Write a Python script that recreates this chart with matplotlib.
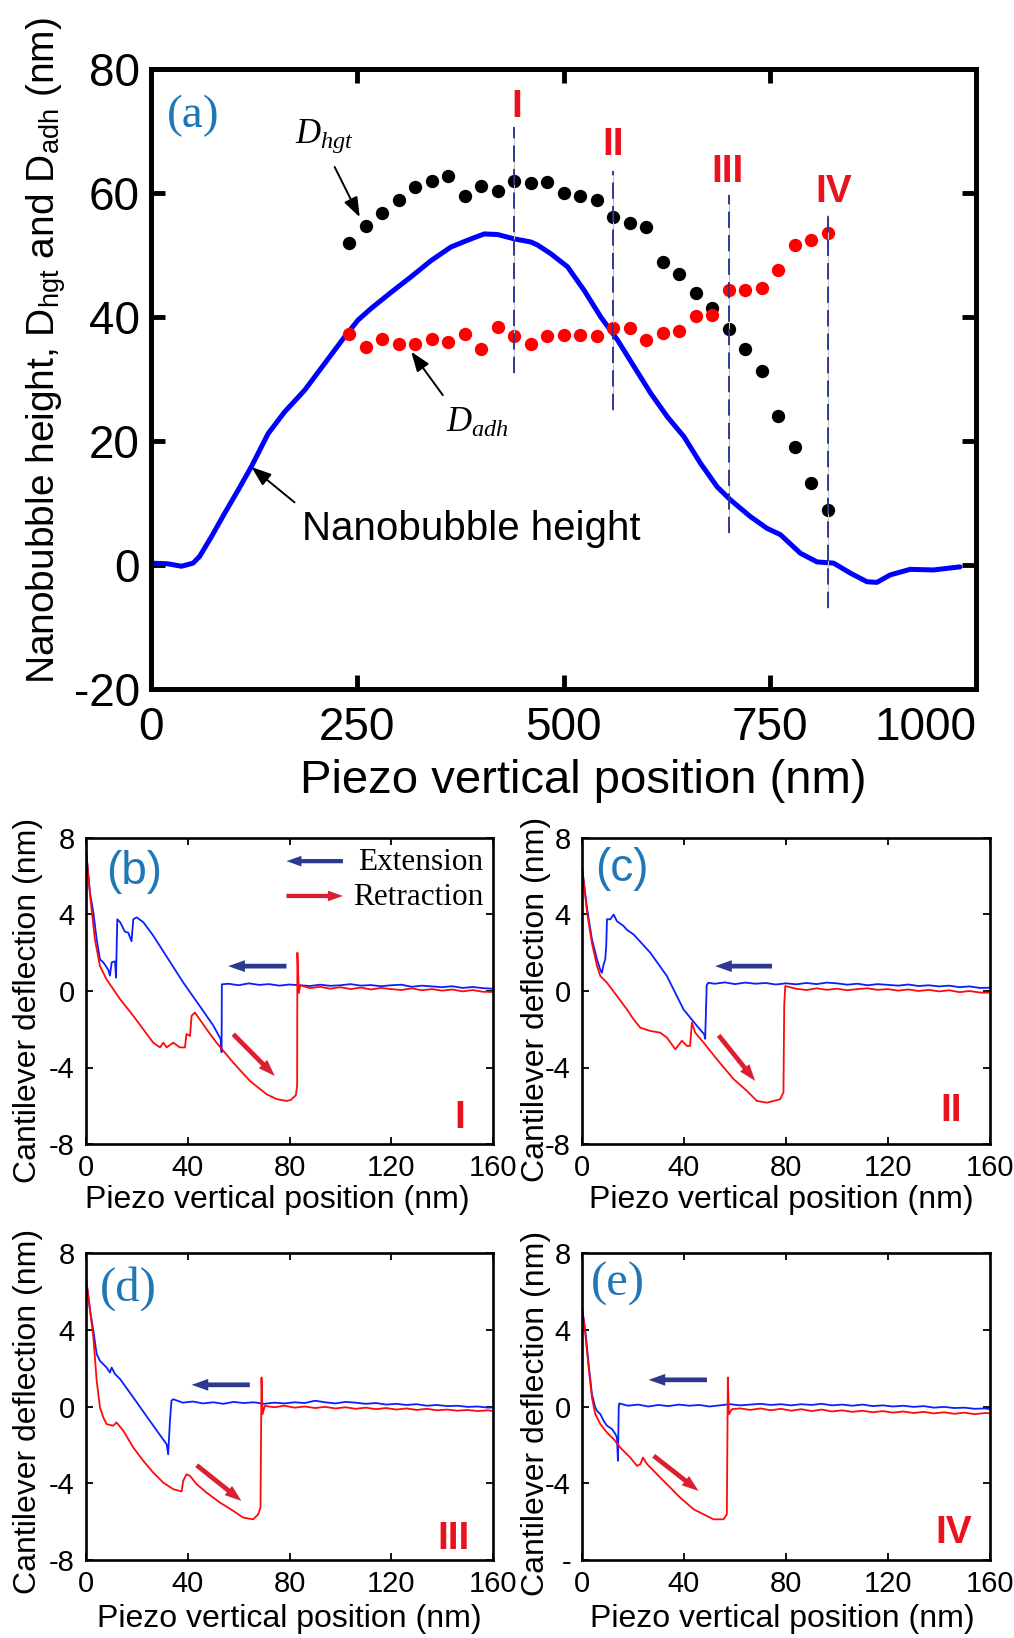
import numpy as np
import matplotlib.pyplot as plt

plt.rcParams['font.family'] = ['Liberation Sans', 'DejaVu Sans']
plt.rcParams['mathtext.fontset'] = 'custom'
plt.rcParams['mathtext.rm'] = 'Liberation Sans'
plt.rcParams['mathtext.it'] = 'Liberation Serif:italic'
plt.rcParams['axes.unicode_minus'] = False

# ---------------- panel (a): nanobubble profile ----------------
height_x = [0, 20, 37, 51, 59, 73.4, 89.5, 105.7, 121.8, 142, 162, 186.3, 210.5,
            234.7, 250.9, 267, 291.2, 315.4, 339.5, 363.7, 387.9, 404, 420.2,
            440.3, 460.5, 468.6, 484.7, 504.9, 525, 545.2, 565.4, 585.5, 605.7,
            625.9, 646, 666.1, 686.3, 702.4, 726.6, 746.8, 762.9, 787.1, 807.3,
            827.4, 847.6, 867.8, 879.9, 896, 920.2, 948.4, 980.6]
height_y = [0.3, 0.2, -0.2, 0.3, 1.4, 4.6, 8.4, 12.1, 15.9, 21.2, 24.7, 28.2, 32.5,
            36.8, 39.5, 41.4, 44.0, 46.5, 49.1, 51.3, 52.6, 53.4, 53.3, 52.6, 52.1,
            51.6, 50.2, 48.1, 44.3, 40.0, 36.3, 32.0, 27.7, 23.9, 20.7, 16.4, 12.6,
            10.5, 7.8, 5.9, 4.9, 1.9, 0.5, 0.3, -1.3, -2.7, -2.8, -1.6, -0.7, -0.8,
            -0.3]

scan_pos = [240, 260, 280, 300, 320, 340, 360, 380, 400, 420, 440, 460, 480,
            500, 520, 540, 560, 580, 600, 620, 640, 660, 680, 700, 720, 740,
            760, 780, 800, 820]
d_hgt = [51.9, 54.7, 56.8, 58.8, 61.0, 61.9, 62.7, 59.5, 61.1, 60.3, 61.9, 61.6,
         61.8, 60.0, 59.5, 58.9, 56.2, 55.2, 54.5, 48.9, 47.0, 43.9, 41.5, 38.0,
         34.9, 31.3, 24.1, 19.0, 13.2, 8.9]
d_adh = [37.2, 35.2, 36.5, 35.6, 35.6, 36.4, 36.0, 37.2, 34.9, 38.4, 37.0, 35.6,
         37.0, 37.1, 37.1, 36.9, 38.2, 38.2, 36.3, 37.5, 37.8, 40.1, 40.4, 44.4,
         44.3, 44.7, 47.6, 51.6, 52.5, 53.5]

mark_names = ['I', 'II', 'III', 'IV']
mark_x = [440, 560, 700, 820]
mark_lo = [30.9, 25.0, 5.2, -7.0]
mark_hi = [70.6, 63.6, 59.6, 56.5]

# ---------------- panels (b)-(e): force curves (x nm, deflection nm) ----------------
b_ext = [(0, 7.4), (1.6, 5.1), (2.9, 4.1), (4.2, 2.7), (5.5, 1.65), (6.8, 1.5),
         (8.8, 1.1), (9.4, 0.8), (10.1, 1.5), (11.4, 1.55), (11.8, 0.7), (12.3, 3.75),
         (13.4, 3.6), (15.3, 3.1), (16.6, 3.05), (17.9, 2.6), (18.6, 3.75), (19.9, 3.85),
         (22.5, 3.6), (26.4, 2.9), (31.7, 1.8), (38.2, 0.45), (44.8, -0.8), (50.0, -1.8),
         (52.9, -2.5), (53.3, -3.2), (53.4, 0.35), (56, 0.38), (60, 0.30), (64, 0.40),
         (68, 0.32), (72, 0.36), (76, 0.28), (80, 0.34), (84, 0.30), (88, 0.26),
         (92, 0.33), (96, 0.27), (100, 0.30), (104, 0.36), (108, 0.28), (112, 0.31),
         (116, 0.25), (120, 0.30), (124, 0.33), (128, 0.22), (132, 0.28), (136, 0.24),
         (140, 0.20), (144, 0.25), (148, 0.16), (152, 0.21), (156, 0.15), (160, 0.12)]
b_ret = [(0, 7.4), (1.6, 5.0), (3.5, 2.7), (5.5, 1.3), (8.1, 0.6), (10.7, 0.1),
         (13.4, -0.43), (18.6, -1.3), (22.5, -2.0), (26.4, -2.7), (29.1, -2.95),
         (30.4, -2.7), (31.7, -2.95), (34.3, -2.7), (36.9, -2.95), (38.9, -2.95),
         (39.5, -2.25), (40.9, -2.35), (41.5, -1.3), (42.8, -1.13), (44.8, -1.5),
         (47.4, -2.0), (51.3, -2.7), (57.9, -3.75), (64.4, -4.7), (71.0, -5.4),
         (74.9, -5.65), (78.8, -5.75), (80.5, -5.7), (82.5, -5.45), (83.0, -4.96),
         (83.1, 2.0), (83.7, -0.1), (84.2, 0.3), (88, 0.15), (92, 0.22), (96, 0.12),
         (100, 0.20), (104, 0.10), (108, 0.18), (112, 0.08), (116, 0.16), (120, 0.10),
         (124, 0.05), (128, 0.14), (132, 0.04), (136, 0.10), (140, 0.02), (144, 0.08),
         (148, -0.02), (152, 0.05), (156, -0.04), (160, -0.05)]

c_ext = [(0, 6.5), (2, 4.3), (3.9, 2.7), (5.9, 1.65), (7.2, 1.1), (7.8, 0.95),
         (8.5, 1.4), (9.1, 1.65), (9.5, 2.35), (9.8, 3.75), (11.1, 3.75), (12.4, 4.0),
         (13.7, 3.65), (16.3, 3.4), (17.6, 3.2), (20.2, 2.96), (26.8, 2.0), (33.3, 0.78),
         (39.8, -0.96), (45.1, -1.83), (47.9, -2.26), (48.3, -2.5), (48.9, 0.3),
         (49.5, 0.43), (52, 0.38), (56, 0.45), (60, 0.36), (64, 0.44), (68, 0.38),
         (72, 0.42), (76, 0.34), (80, 0.40), (84, 0.35), (88, 0.42), (92, 0.36),
         (96, 0.44), (100, 0.40), (104, 0.33), (108, 0.38), (112, 0.30), (116, 0.36),
         (120, 0.32), (124, 0.28), (128, 0.34), (132, 0.26), (136, 0.30), (140, 0.24),
         (144, 0.28), (148, 0.20), (152, 0.24), (156, 0.16), (160, 0.17)]
c_ret = [(0, 6.5), (2, 4.1), (3.9, 2.5), (5.9, 1.3), (7.2, 0.78), (9.8, 0.43),
         (13.7, -0.26), (17.6, -0.96), (20.2, -1.48), (22.9, -1.92), (26.8, -2.09),
         (30.7, -2.18), (33.3, -2.44), (36.6, -3.05), (39.2, -2.6), (41.1, -2.87),
         (42.4, -2.87), (43.1, -1.65), (44.4, -2.18), (47.7, -2.7), (52.9, -3.57),
         (59.4, -4.6), (64.7, -5.23), (68.6, -5.75), (72.5, -5.84), (77.7, -5.66),
         (79.0, -5.3), (79.3, -0.78), (79.7, 0.26), (84, 0.12), (88, 0.05), (92, 0.14),
         (96, 0.06), (100, 0.12), (104, 0.04), (108, 0.10), (112, 0.14), (116, 0.06),
         (120, 0.10), (124, 0.02), (128, 0.08), (132, 0.0), (136, 0.06), (140, -0.02),
         (144, 0.04), (148, -0.06), (152, 0.0), (156, -0.08), (160, -0.09)]

d_ext = [(0, 6.7), (1.6, 5.0), (2.9, 3.95), (4.2, 2.73), (5.5, 2.38), (8.1, 2.03),
         (9.4, 1.77), (10.1, 2.03), (11.4, 1.69), (13.4, 1.43), (18.6, 0.47),
         (25.1, -0.75), (31.7, -1.97), (32.3, -2.49), (33.0, -0.75), (33.6, 0.3),
         (34.3, 0.38), (38, 0.20), (42, 0.26), (46, 0.16), (50, 0.22), (54, 0.14),
         (58, 0.24), (62, 0.18), (66, 0.22), (70, 0.14), (74, 0.20), (78, 0.16),
         (82, 0.22), (86, 0.18), (90, 0.30), (94, 0.22), (98, 0.16), (102, 0.24),
         (106, 0.20), (110, 0.14), (114, 0.18), (118, 0.10), (122, 0.14), (126, 0.08),
         (130, 0.12), (134, 0.04), (138, 0.08), (142, 0.02), (146, 0.04), (150, -0.02),
         (154, 0.0), (158, -0.06), (160, -0.05)]
d_ret = [(0, 6.7), (1.3, 5.34), (2.9, 3.6), (4.2, 1.34), (5.5, -0.05), (6.8, -0.57),
         (8.1, -0.92), (10.7, -1.0), (12.0, -0.83), (14.7, -1.27), (18.6, -2.14),
         (22.5, -2.83), (26.4, -3.44), (30.4, -3.97), (34.3, -4.31), (37.6, -4.43),
         (38.2, -3.88), (39.5, -3.53), (40.9, -3.62), (43.5, -4.05), (47.4, -4.49),
         (52.6, -5.0), (57.9, -5.44), (61.8, -5.79), (65.7, -5.88), (67.7, -5.62),
         (68.6, -5.27), (69.0, 1.51), (69.4, -0.4), (70.3, 0.03), (74, -0.04),
         (78, 0.04), (82, -0.06), (86, 0.0), (90, -0.08), (94, -0.02), (98, -0.10),
         (102, -0.04), (106, -0.12), (110, -0.06), (114, -0.14), (118, -0.08),
         (122, -0.16), (126, -0.10), (130, -0.18), (134, -0.12), (138, -0.20),
         (142, -0.16), (146, -0.22), (150, -0.18), (154, -0.24), (158, -0.20),
         (160, -0.23)]

e_ext = [(0, 5.17), (1.3, 3.95), (2.6, 2.21), (3.9, 0.64), (5.2, -0.05), (5.9, -0.23),
         (7.2, -0.4), (8.5, -0.75), (9.8, -1.0), (11.8, -1.18), (13.1, -1.44),
         (13.7, -1.62), (14.1, -2.83), (14.4, -0.05), (14.6, 0.16), (18, 0.04),
         (22, 0.10), (26, 0.0), (30, 0.08), (34, 0.02), (38, 0.10), (42, 0.04),
         (46, 0.08), (50, 0.0), (54, 0.06), (58, 0.12), (62, 0.06), (66, 0.10),
         (70, 0.14), (74, 0.08), (78, 0.12), (82, 0.06), (86, 0.12), (90, 0.08),
         (94, 0.14), (98, 0.06), (102, 0.10), (106, 0.04), (110, 0.10), (114, 0.02),
         (118, 0.06), (122, 0.0), (126, 0.04), (130, -0.02), (134, 0.02), (138, -0.06),
         (142, -0.02), (146, -0.08), (150, -0.06), (154, -0.12), (158, -0.10),
         (160, -0.14)]
e_ret = [(0, 5.17), (1.3, 3.77), (2.6, 2.03), (3.9, 0.47), (5.2, -0.4), (7.2, -0.92),
         (9.8, -1.36), (12.4, -1.7), (15.0, -2.14), (18.9, -2.66), (21.6, -3.1),
         (22.9, -3.0), (23.9, -2.66), (25.5, -3.0), (29.4, -3.53), (33.3, -4.05),
         (38.5, -4.75), (43.8, -5.36), (47.7, -5.62), (51.6, -5.88), (55.5, -5.88),
         (56.8, -5.62), (57.2, 1.51), (57.6, -0.4), (58.8, -0.14), (62, -0.10),
         (66, -0.18), (70, -0.10), (74, -0.20), (78, -0.12), (82, -0.22), (86, -0.14),
         (90, -0.24), (94, -0.16), (98, -0.26), (102, -0.20), (106, -0.28), (110, -0.22),
         (114, -0.30), (118, -0.24), (122, -0.32), (126, -0.26), (130, -0.34),
         (134, -0.28), (138, -0.36), (142, -0.30), (146, -0.38), (150, -0.32),
         (154, -0.40), (158, -0.34), (160, -0.36)]

defl_ticks = [-8, -4, 0, 4, 8]
pos_ticks = [0, 40, 80, 120, 160]

# ---------------- figure ----------------
W, H = 1014, 1638
fig = plt.figure(figsize=(W / 100, H / 100), dpi=100)


def box(l, t, r, b):
    return [l / W, 1 - b / H, (r - l) / W, (b - t) / H]


def fxy(x, y):
    return x / W, 1 - y / H


TAG_BLUE = '#1f77b4'
NUM_RED = '#e8131f'
SERIF = 'Liberation Serif'

ax = fig.add_axes(box(151, 69, 976, 689))
ax.plot(height_x, height_y, color='#0000ff', lw=3.6, solid_joinstyle='round',
        solid_capstyle='round', zorder=2)
ax.plot(scan_pos, d_hgt, 'o', color='black', ms=9.6, mec='none', zorder=3)
ax.plot(scan_pos, d_adh, 'o', color='#ff0000', ms=9.6, mec='none', zorder=3)
for x, lo, hi in zip(mark_x, mark_lo, mark_hi):
    ax.plot([x, x], [lo, hi], color='#c4c4c4', lw=0.8, zorder=4)
    ax.plot([x, x], [lo, hi], color='#1f2d8f', lw=1.3, ls=(0, (9, 4)), zorder=5)
for name, tx, ty in zip(mark_names, [443, 560, 699, 827], [72.2, 66.2, 61.7, 58.6]):
    ax.text(tx, ty, name, color=NUM_RED, fontsize=28, fontweight='bold',
            ha='center', va='baseline')

ax.set_xlim(0, 1000)
ax.set_ylim(-20, 80)
ax.set_xticks([0, 250, 500, 750, 1000])
ax.set_yticks([-20, 0, 20, 40, 60, 80])
ax.tick_params(direction='in', length=10, width=3.5, top=True, right=True, labelsize=33)
ax.tick_params(axis='x', pad=12)
ax.tick_params(axis='y', pad=8)
ax.get_xticklabels()[-1].set_horizontalalignment('right')
for s in ax.spines.values():
    s.set_linewidth(3.6)

thin_arrow = dict(arrowstyle='-|>,head_length=0.6,head_width=0.22', color='black',
                  lw=1.4, mutation_scale=20, shrinkA=0, shrinkB=0)
ax.annotate('', xy=(253, 56.1), xytext=(222.6, 64.2), arrowprops=thin_arrow)
ax.annotate('', xy=(315.4, 34.4), xytext=(353.7, 27.4), arrowprops=thin_arrow)
ax.annotate('', xy=(121.8, 15.8), xytext=(174, 10.1), arrowprops=thin_arrow)
ax.text(174, 68.1, r'$D_{hgt}$', fontsize=25, ha='left', va='baseline')
ax.text(357.7, 21.5, r'$D_{adh}$', fontsize=25, ha='left', va='baseline')
ax.text(183, 4.0, 'Nanobubble height', fontsize=29, ha='left', va='baseline')
ax.text(19, 70.6, '(a)', color=TAG_BLUE, fontsize=34, family=SERIF,
        ha='left', va='baseline')

fig.text(*fxy(583, 793), 'Piezo vertical position (nm)', fontsize=34,
         ha='center', va='baseline')
fig.text(*fxy(55, 351), r'Nanobubble height, D$_{\mathrm{hgt}}$ and D$_{\mathrm{adh}}$ (nm)',
         fontsize=28, rotation=90, rotation_mode='anchor', ha='center', va='baseline')

# ---------------- force curve panels ----------------
panels = [
    dict(rect=(86, 838, 493, 1144), ext=b_ext, ret=b_ret, tag='(b)', tag_xy=(8.1, 5.57),
         serif=False, num='I', num_xy=(146.9, -7.14), blue=((78.8, 1.3), (55.9, 1.3)),
         red=((57.9, -2.26), (74.2, -4.44)), ylab=(36, 1000), xlab=(277, 1208)),
    dict(rect=(582, 838, 990, 1144), ext=c_ext, ret=c_ret, tag='(c)', tag_xy=(5.2, 5.75),
         serif=False, num='II', num_xy=(144.6, -6.8), blue=((74.5, 1.3), (52.2, 1.3)),
         red=((53.6, -2.32), (67.9, -4.7)), ylab=(544, 999), xlab=(781, 1208)),
    dict(rect=(86, 1253, 493, 1560), ext=d_ext, ret=d_ret, tag='(d)', tag_xy=(5.5, 5.54),
         serif=True, num='III', num_xy=(144.4, -7.44), blue=((64.4, 1.13), (41.5, 1.13)),
         red=((43.5, -3.06), (61.1, -4.92)), ylab=(36, 1411), xlab=(289, 1627)),
    dict(rect=(582, 1253, 990, 1560), ext=e_ext, ret=e_ret, tag='(e)', tag_xy=(3.3, 5.8),
         serif=True, num='IV', num_xy=(145.9, -7.1), blue=((49.0, 1.39), (26.1, 1.39)),
         red=((28.1, -2.57), (45.7, -4.4)), ylab=(544, 1413), xlab=(782, 1627)),
]

EXT_BLUE = '#0a1eff'
RET_RED = '#ff0a0a'
ARROW_BLUE = '#2b3990'
ARROW_RED = '#dc1f30'
fat_arrow = 'simple,head_length=1.2,head_width=0.85,tail_width=0.34'

for p in panels:
    pa = fig.add_axes(box(*p['rect']))
    ex, ey = np.array(p['ext']).T
    rx, ry = np.array(p['ret']).T
    pa.plot(ex, ey, color=EXT_BLUE, lw=1.3)
    pa.plot(rx, ry, color=RET_RED, lw=1.3)
    pa.set_xlim(0, 160)
    pa.set_ylim(-8, 8)
    pa.set_xticks(pos_ticks)
    pa.set_yticks(defl_ticks)
    if p['tag'] == '(e)':
        pa.set_yticklabels(['-', '-4', '0', '4', '8'])
    pa.tick_params(direction='in', length=5, width=1.3, top=True, right=True, labelsize=21)
    pa.tick_params(axis='x', pad=7)
    pa.tick_params(axis='y', pad=8)
    for s in pa.spines.values():
        s.set_linewidth(1.9)
    for (tail, head), col in ((p['blue'], ARROW_BLUE), (p['red'], ARROW_RED)):
        pa.annotate('', xy=head, xytext=tail,
                    arrowprops=dict(arrowstyle=fat_arrow, mutation_scale=10, color=col,
                                    lw=0, shrinkA=0, shrinkB=0))
    pa.text(*p['tag_xy'], p['tag'], color=TAG_BLUE, fontsize=33 if not p['serif'] else 35,
            family=SERIF if p['serif'] else None, ha='left', va='baseline')
    pa.text(*p['num_xy'], p['num'], color=NUM_RED, fontsize=28, fontweight='bold',
            ha='center', va='baseline')
    fig.text(*fxy(*p['xlab']), 'Piezo vertical position (nm)', fontsize=23,
             ha='center', va='baseline')
    fig.text(*fxy(*p['ylab']), 'Cantilever deflection (nm)', fontsize=23, rotation=90,
             rotation_mode='anchor', ha='center', va='baseline')
    if p['tag'] == '(b)':
        # extension / retraction key
        pa.annotate('', xy=(78.8, 6.79), xytext=(101, 6.79),
                    arrowprops=dict(arrowstyle=fat_arrow, mutation_scale=9, color=ARROW_BLUE,
                                    lw=0, shrinkA=0, shrinkB=0))
        pa.annotate('', xy=(101, 4.97), xytext=(78.8, 4.97),
                    arrowprops=dict(arrowstyle=fat_arrow, mutation_scale=9, color=ARROW_RED,
                                    lw=0, shrinkA=0, shrinkB=0))
        pa.text(107, 6.32, 'Extension', family=SERIF, fontsize=22.5, ha='left', va='baseline')
        pa.text(105, 4.48, 'Retraction', family=SERIF, fontsize=22.5, ha='left', va='baseline')

fig.savefig('out.png', dpi=100)
